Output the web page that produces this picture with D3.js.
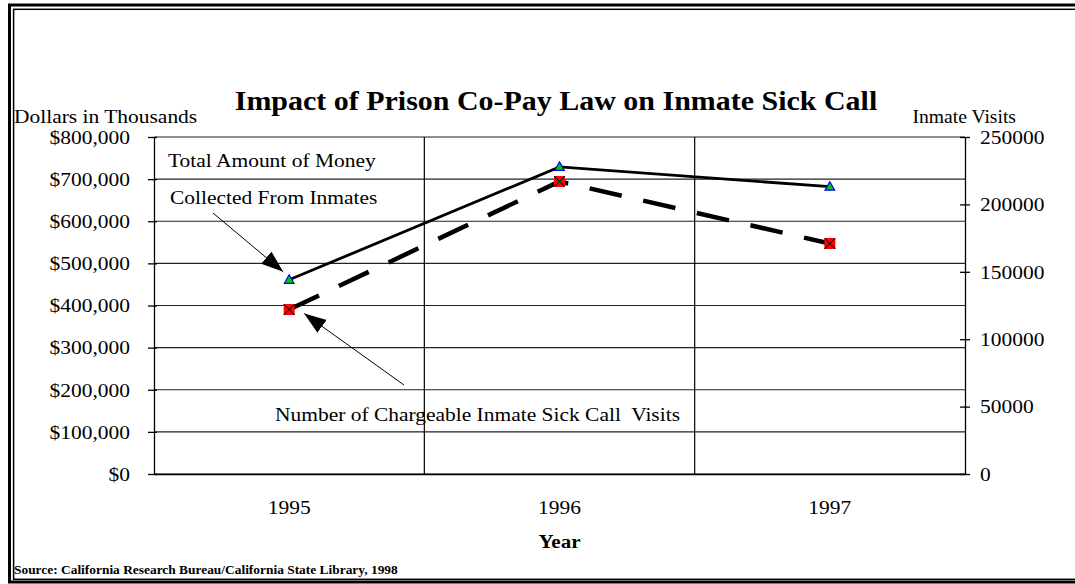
<!DOCTYPE html>
<html>
<head>
<meta charset="utf-8">
<script src="https://cdn.jsdelivr.net/npm/d3@7"></script>
<style>
  body { margin: 0; background: #fff; }
  text { font-family: "Liberation Serif", "Times New Roman", serif; fill: #000; }
</style>
</head>
<body>
<div id="chart"></div>
<script>
/* Data */
const years = ["1995", "1996", "1997"]
const moneyCollected = [461000, 729000, 682000]   // dollars (left axis)
const sickCallVisits = [122000, 217000, 171000]   // visits (right axis)
const leftTicks = [0, 100000, 200000, 300000, 400000, 500000, 600000, 700000, 800000]
const rightTicks = [0, 50000, 100000, 150000, 200000, 250000]
/* End Data */

const width = 1075
const height = 584
const plot = { left: 154, right: 965, top: 137, bottom: 474 }
const fs = "19.7px"
// the original picture is a bit wider than tall, so type is stretched sideways
const stretchK = 1.09

const stretch = sel => sel.each(function() {
  const t = d3.select(this)
  const x0 = +(t.attr("x") || 0)
  const y0 = +(t.attr("y") || 0)
  t.attr("x", x0 / stretchK).attr("transform", `scale(${stretchK},1)`).attr("y", y0)
})

const svg = d3.select("#chart").append("svg")
    .attr("width", width)
    .attr("height", height)

// double frame
svg.append("rect")
    .attr("x", 9.5).attr("y", 5)
    .attr("width", width + 20).attr("height", 577)
    .attr("fill", "none").attr("stroke", "#000").attr("stroke-width", 3)
svg.append("rect")
    .attr("x", 13.6).attr("y", 9.3)
    .attr("width", width + 20).attr("height", 570)
    .attr("fill", "none").attr("stroke", "#000").attr("stroke-width", 1.5)

const x = d3.scaleBand().domain(years).range([plot.left, plot.right])
const yL = d3.scaleLinear().domain([0, 800000]).range([plot.bottom, plot.top])
const yR = d3.scaleLinear().domain([0, 250000]).range([plot.bottom, plot.top])

// horizontal gridlines
svg.append("g")
  .selectAll("line")
  .data(leftTicks)
  .join("line")
    .attr("x1", plot.left).attr("x2", plot.right)
    .attr("y1", d => yL(d)).attr("y2", d => yL(d))
    .attr("stroke", "#222").attr("stroke-width", 1.2)

// vertical category separators
svg.append("g")
  .selectAll("line")
  .data(years.slice(1))
  .join("line")
    .attr("x1", d => x(d)).attr("x2", d => x(d))
    .attr("y1", plot.top).attr("y2", plot.bottom)
    .attr("stroke", "#000").attr("stroke-width", 1.2)

// left axis
const leftAxis = svg.append("g")
    .attr("transform", `translate(${plot.left},0)`)
    .call(d3.axisLeft(yL)
      .tickValues(leftTicks)
      .tickFormat(d => "$" + d3.format(",")(d))
      .tickSizeInner(6).tickSizeOuter(0).tickPadding(18))
leftAxis.selectAll(".tick line").attr("x1", 3)
leftAxis.selectAll("text").style("font-size", fs).call(stretch)

// right axis
const rightAxis = svg.append("g")
    .attr("transform", `translate(${plot.right},0)`)
    .call(d3.axisRight(yR)
      .tickValues(rightTicks)
      .tickFormat(d3.format("d"))
      .tickSizeInner(5).tickSizeOuter(0).tickPadding(10))
rightAxis.selectAll(".tick line").attr("x1", -5)
rightAxis.selectAll("text").style("font-size", fs).call(stretch)

// bottom axis
const bottomAxis = svg.append("g")
    .attr("transform", `translate(0,${plot.bottom})`)
    .call(d3.axisBottom(x).tickSize(0).tickPadding(26))
bottomAxis.selectAll("text").style("font-size", fs).call(stretch)

svg.selectAll(".domain").attr("stroke-width", 1.3)
svg.selectAll(".tick line").attr("stroke-width", 1.3)

// lines
const moneyLine = d3.line()
    .x((d, i) => x(years[i]) + x.bandwidth() / 2)
    .y(d => yL(d))
const visitLine = d3.line()
    .x((d, i) => x(years[i]) + x.bandwidth() / 2)
    .y(d => yR(d))

svg.append("path")
    .datum(sickCallVisits)
    .attr("d", visitLine)
    .attr("fill", "none")
    .attr("stroke", "#000")
    .attr("stroke-width", 4.5)
    .attr("stroke-dasharray", "33,22")

svg.append("path")
    .datum(moneyCollected)
    .attr("d", moneyLine)
    .attr("fill", "none")
    .attr("stroke", "#000")
    .attr("stroke-width", 2.8)

// markers: red squares with an X
const sq = 5.5
const squares = svg.append("g")
  .selectAll("g")
  .data(sickCallVisits)
  .join("g")
    .attr("transform", (d, i) => `translate(${x(years[i]) + x.bandwidth() / 2},${yR(d)})`)
squares.append("rect")
    .attr("x", -sq).attr("y", -sq).attr("width", sq * 2).attr("height", sq * 2)
    .attr("fill", "#ff0000")
squares.append("path")
    .attr("d", `M${-sq},${-sq}L${sq},${sq}M${sq},${-sq}L${-sq},${sq}`)
    .attr("stroke", "#000").attr("stroke-width", 1)

// markers: green triangles with blue edge
svg.append("g")
  .selectAll("path")
  .data(moneyCollected)
  .join("path")
    .attr("transform", (d, i) => `translate(${x(years[i]) + x.bandwidth() / 2},${yL(d)})`)
    .attr("d", "M0,-5L4.8,3.5L-4.8,3.5Z")
    .attr("fill", "#00cc00")
    .attr("stroke", "#0000ff")
    .attr("stroke-width", 1.2)

// texts
const labels = svg.append("g")

labels.append("text")
    .attr("x", 556).attr("y", 110)
    .attr("text-anchor", "middle")
    .style("font-size", "27.5px").style("font-weight", "bold")
    .text("Impact of Prison Co-Pay Law on Inmate Sick Call")

labels.append("text")
    .attr("x", 14).attr("y", 123)
    .style("font-size", fs)
    .text("Dollars in Thousands")

labels.append("text")
    .attr("x", 1016).attr("y", 123)
    .attr("text-anchor", "end")
    .style("font-size", "18px")
    .text("Inmate Visits")

labels.append("text")
    .attr("x", x("1996") + x.bandwidth() / 2).attr("y", 548)
    .attr("text-anchor", "middle")
    .style("font-size", "19.3px").style("font-weight", "bold")
    .text("Year")

labels.append("text")
    .attr("x", 14).attr("y", 574)
    .style("font-size", "12.3px").style("font-weight", "bold")
    .text("Source: California Research Bureau/California State Library, 1998")

labels.append("text")
    .attr("x", 168).attr("y", 167)
    .style("font-size", fs)
    .text("Total Amount of Money")
labels.append("text")
    .attr("x", 170).attr("y", 204)
    .style("font-size", fs)
    .text("Collected From Inmates")
labels.append("text")
    .attr("x", 275).attr("y", 421)
    .style("font-size", fs)
    .style("white-space", "pre")
    .text("Number of Chargeable Inmate Sick Call  Visits")

labels.selectAll("text").call(stretch)

// annotation arrows
svg.append("defs").append("marker")
    .attr("id", "arrowhead")
    .attr("markerUnits", "userSpaceOnUse")
    .attr("viewBox", "0 0 22 16")
    .attr("refX", 22).attr("refY", 8)
    .attr("markerWidth", 22).attr("markerHeight", 16)
    .attr("orient", "auto")
  .append("path")
    .attr("d", "M0,0L22,8L0,16Z")
    .attr("fill", "#000")

const cx0 = x("1995") + x.bandwidth() / 2
const arrows = [
  { from: [213, 213], to: [cx0 - 6, yL(moneyCollected[0]) - 8] },
  { from: [404, 385], to: [cx0 + 15, yR(sickCallVisits[0]) + 4] },
]
svg.append("g")
  .selectAll("line")
  .data(arrows)
  .join("line")
    .attr("x1", d => d.from[0]).attr("y1", d => d.from[1])
    .attr("x2", d => d.to[0]).attr("y2", d => d.to[1])
    .attr("stroke", "#000").attr("stroke-width", 1)
    .attr("marker-end", "url(#arrowhead)")
</script>
</body>
</html>
